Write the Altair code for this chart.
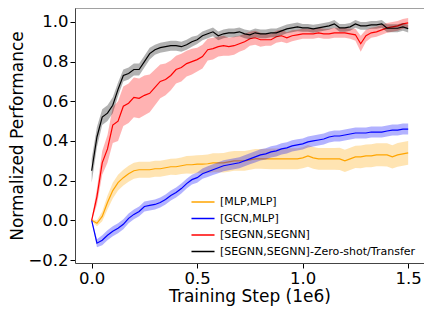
import altair as alt
import pandas as pd

steps = [i * 0.025 for i in range(61)]

series_names = ["[MLP,MLP]", "[GCN,MLP]", "[SEGNN,SEGNN]", "[SEGNN,SEGNN]-Zero-shot/Transfer"]
series_colors = ["orange", "blue", "red", "black"]

mlp = [0.0, -0.015, 0.02, 0.09, 0.15, 0.19, 0.215, 0.235, 0.25, 0.255,
       0.255, 0.255, 0.26, 0.26, 0.265, 0.27, 0.27, 0.275, 0.28, 0.28,
       0.283, 0.283, 0.285, 0.29, 0.29, 0.29, 0.295, 0.30, 0.30, 0.30,
       0.305, 0.31, 0.31, 0.31, 0.31, 0.31, 0.31, 0.31, 0.31, 0.31,
       0.315, 0.325, 0.315, 0.31, 0.31, 0.31, 0.31, 0.31, 0.30, 0.31,
       0.32, 0.32, 0.325, 0.325, 0.33, 0.33, 0.33, 0.32, 0.33, 0.335, 0.34]
mlp_sd = [0.005, 0.015, 0.025, 0.035, 0.04, 0.04, 0.04, 0.04, 0.04, 0.04,
          0.04, 0.04, 0.04, 0.04, 0.04, 0.04, 0.042, 0.042, 0.044, 0.045,
          0.045, 0.046, 0.047, 0.048, 0.048, 0.049, 0.05, 0.05, 0.05, 0.05,
          0.05, 0.05, 0.05, 0.051, 0.052, 0.052, 0.052, 0.053, 0.053, 0.053,
          0.053, 0.055, 0.055, 0.055, 0.055, 0.055, 0.055, 0.056, 0.056, 0.056,
          0.056, 0.057, 0.057, 0.058, 0.058, 0.058, 0.059, 0.059, 0.06, 0.06, 0.06]

gcn = [0.0, -0.115, -0.10, -0.075, -0.055, -0.04, -0.02, 0.01, 0.03, 0.045,
       0.07, 0.075, 0.08, 0.09, 0.105, 0.125, 0.14, 0.16, 0.185, 0.205,
       0.215, 0.235, 0.245, 0.255, 0.265, 0.275, 0.28, 0.285, 0.29, 0.30,
       0.31, 0.32, 0.33, 0.335, 0.345, 0.35, 0.36, 0.365, 0.375, 0.38,
       0.385, 0.395, 0.40, 0.405, 0.41, 0.42, 0.425, 0.425, 0.43, 0.435,
       0.44, 0.44, 0.44, 0.445, 0.445, 0.445, 0.45, 0.455, 0.455, 0.46, 0.46]
gcn_sd = [0.005, 0.02, 0.025, 0.025, 0.025, 0.025, 0.025, 0.025, 0.025, 0.025,
          0.025, 0.025, 0.025, 0.025, 0.025, 0.025, 0.025, 0.025, 0.025, 0.025,
          0.026, 0.026, 0.027, 0.027, 0.028, 0.028, 0.028, 0.028, 0.028, 0.028,
          0.028, 0.028, 0.028, 0.028, 0.028, 0.028, 0.028, 0.028, 0.028, 0.028,
          0.028, 0.028, 0.028, 0.028, 0.028, 0.028, 0.028, 0.028, 0.028, 0.028,
          0.028, 0.028, 0.028, 0.028, 0.028, 0.028, 0.028, 0.028, 0.028, 0.028, 0.028]

segnn = [0.0, 0.12, 0.29, 0.36, 0.48, 0.50, 0.575, 0.59, 0.62, 0.615,
         0.63, 0.64, 0.67, 0.70, 0.71, 0.73, 0.76, 0.77, 0.79, 0.80,
         0.81, 0.825, 0.86, 0.865, 0.875, 0.88, 0.875, 0.88, 0.89, 0.90,
         0.915, 0.92, 0.91, 0.91, 0.91, 0.925, 0.93, 0.92, 0.93, 0.935,
         0.94, 0.94, 0.94, 0.945, 0.94, 0.94, 0.945, 0.945, 0.945, 0.94,
         0.935, 0.89, 0.93, 0.945, 0.95, 0.96, 0.97, 0.975, 0.98, 0.99, 0.995]
segnn_sd = [0.005, 0.04, 0.06, 0.07, 0.09, 0.1, 0.1, 0.1, 0.1, 0.1,
            0.1, 0.095, 0.09, 0.085, 0.08, 0.075, 0.07, 0.07, 0.065, 0.065,
            0.06, 0.06, 0.055, 0.055, 0.05, 0.05, 0.045, 0.045, 0.04, 0.04,
            0.035, 0.035, 0.035, 0.03, 0.03, 0.03, 0.03, 0.028, 0.028, 0.026,
            0.025, 0.025, 0.025, 0.025, 0.025, 0.025, 0.025, 0.025, 0.025, 0.025,
            0.03, 0.04, 0.03, 0.025, 0.025, 0.025, 0.025, 0.025, 0.025, 0.025, 0.025]

zeroshot = [0.25, 0.42, 0.52, 0.54, 0.58, 0.66, 0.73, 0.74, 0.76, 0.76,
            0.80, 0.84, 0.86, 0.87, 0.875, 0.88, 0.88, 0.875, 0.885, 0.90,
            0.91, 0.93, 0.94, 0.95, 0.93, 0.94, 0.945, 0.945, 0.95, 0.94,
            0.935, 0.945, 0.94, 0.94, 0.945, 0.945, 0.955, 0.965, 0.97, 0.975,
            0.97, 0.97, 0.965, 0.97, 0.975, 0.98, 0.99, 0.97, 0.97, 0.975,
            0.99, 0.98, 0.98, 0.985, 0.985, 0.99, 0.968, 0.968, 0.968, 0.975, 0.966]
zeroshot_sd = [0.06, 0.05, 0.04, 0.04, 0.04, 0.035, 0.03, 0.03, 0.03, 0.03,
               0.03, 0.03, 0.025, 0.025, 0.025, 0.025, 0.025, 0.025, 0.025, 0.025,
               0.022, 0.022, 0.022, 0.022, 0.022, 0.022, 0.022, 0.022, 0.022, 0.022,
               0.022, 0.022, 0.022, 0.022, 0.022, 0.022, 0.022, 0.022, 0.022, 0.022,
               0.02, 0.02, 0.02, 0.02, 0.02, 0.02, 0.02, 0.02, 0.02, 0.02,
               0.02, 0.02, 0.02, 0.02, 0.02, 0.02, 0.02, 0.02, 0.02, 0.02, 0.02]

y_ticks = [-0.2, 0.0, 0.2, 0.4, 0.6, 0.8, 1.0]
x_ticks = [0.0, 0.5, 1.0, 1.5]

rows = []
for order, (name, vals, sds) in enumerate(zip(series_names, [mlp, gcn, segnn, zeroshot],
                                             [mlp_sd, gcn_sd, segnn_sd, zeroshot_sd])):
    for s, v, d in zip(steps, vals, sds):
        rows.append({"step": s, "perf": v, "lo": v - d, "hi": v + d, "series": name, "order": order})
df = pd.DataFrame(rows)

W, H = 349, 255

x_scale = alt.Scale(domain=[-0.079, 1.575], nice=False, zero=False)
y_scale = alt.Scale(domain=[-0.215, 1.07], nice=False, zero=False)
color_scale = alt.Scale(domain=series_names, range=series_colors)

x_enc = alt.X("step:Q", scale=x_scale,
              axis=alt.Axis(values=x_ticks, format=".1f", title="Training Step (1e6)",
                            labelFlush=False))
y_enc = alt.Y("perf:Q", scale=y_scale,
              axis=alt.Axis(values=y_ticks, format=".1f", title="Normalized Performance"))

legend = alt.Legend(title=None, orient="none", legendX=119, legendY=185,
                    symbolType="M-1.44,0H1.44", symbolSize=256,
                    symbolStrokeWidth=1.5, labelFontSize=11, labelLimit=0,
                    labelFont="DejaVu Sans", labelColor="black",
                    labelOffset=8, rowPadding=2.5)

layers = []
for name, col in zip(series_names, series_colors):
    sub = df[df.series == name]
    band = alt.Chart(sub).mark_area(opacity=0.3, color=col, interpolate="linear").encode(
        x=x_enc,
        y=alt.Y("lo:Q", scale=y_scale),
        y2="hi:Q",
    )
    layers.append(band)
    line = alt.Chart(sub).mark_line(strokeWidth=1.2).encode(
        x=x_enc,
        y=y_enc,
        color=alt.Color("series:N", scale=color_scale, legend=legend),
    )
    layers.append(line)

top_spine = alt.Chart(pd.DataFrame({"a": [0]})).mark_rule(color="#444", strokeWidth=1).encode(
    x=alt.value(0), x2=alt.value(W), y=alt.value(0))
layers.append(top_spine)

chart = alt.layer(*layers).properties(
    width=W, height=H,
    autosize=alt.AutoSizeParams(type="none"),
    padding={"left": 67, "top": 0, "right": 0, "bottom": 43},
).configure_view(stroke=None).configure_axis(
    labelFont="DejaVu Sans", titleFont="DejaVu Sans",
    labelFontSize=16.5, titleFontSize=17, labelColor="black", titleColor="black",
    titleFontWeight="normal", domainColor="#444", domainWidth=1,
    tickColor="black", tickSize=5, grid=False, labelPadding=2,
).configure_axisY(titlePadding=1).configure_axisX(titlePadding=2)

chart.save("out.html", embed_options={"renderer": "svg", "actions": False})
